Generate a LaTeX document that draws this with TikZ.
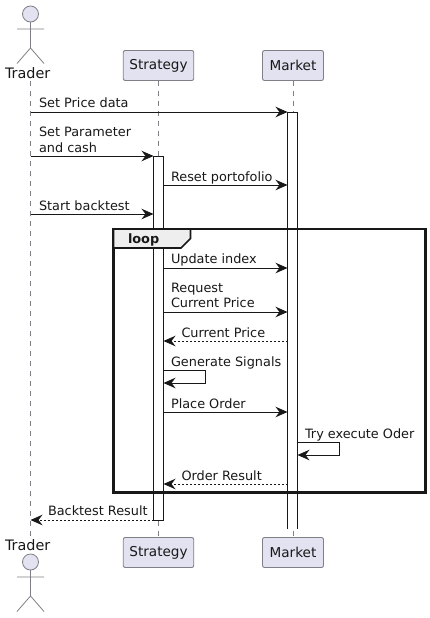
\documentclass[tikz,border=0pt]{standalone}
\usepackage{fontspec}
\setmainfont{DejaVu Sans}
\usetikzlibrary{arrows.meta}
\definecolor{partfill}{HTML}{E2E2F0}
\definecolor{partline}{HTML}{7F7F87}
\definecolor{ink}{HTML}{181818}
\definecolor{tabfill}{HTML}{EEEEEE}
\tikzset{
  lbl/.style={anchor=base west,inner sep=0pt,outer sep=0pt,text=ink,font=\fontsize{12.85pt}{14pt}\selectfont},
  partbox/.style={draw=partline,fill=partfill,line width=.9pt,rounded corners=2pt,minimum height=30pt,inner sep=0pt,outer sep=0pt,text=ink,font=\fontsize{13.6pt}{16pt}\selectfont},
  actorname/.style={inner sep=0pt,outer sep=0pt,anchor=base,text=ink,font=\fontsize{14.4pt}{16pt}\selectfont},
  actorshape/.style={draw=partline,line width=.8pt},
  lifeline/.style={draw=partline,line width=.7pt,dash pattern=on 5pt off 5pt},
  actbox/.style={draw=ink,fill=white,line width=.8pt,minimum width=10pt,inner sep=0pt,outer sep=0pt},
  msg/.style={draw=ink,line width=.8pt,-{Stealth[length=12pt,width=10.5pt,inset=4pt,fill=ink]}},
  ret/.style={msg,dash pattern=on 2pt off 2pt},
  framebox/.style={draw=ink,line width=2.3pt},
}
\begin{document}
\begin{tikzpicture}[x=1pt,y=-1pt]
\useasboundingbox (0,0) rectangle (430,618);
% participants
\node[partbox,minimum width=70.5pt] (stratT) at (158.5,65.5) {Strategy};
\node[partbox,minimum width=61pt] (markT) at (293,65.5) {Market};
\node[partbox,minimum width=70.5pt] (stratB) at (158.5,552.5) {Strategy};
\node[partbox,minimum width=61pt] (markB) at (293,552.5) {Market};
\node[actorname] (traderT) at (27.7,78) {Trader};
\node[actorname] (traderB) at (27.7,550) {Trader};
\coordinate (traderTop) at (30.5,81);
\coordinate (traderBot) at (30.5,537);
% lifelines
\draw[lifeline] (traderTop) -- (traderBot);
\draw[lifeline] (stratT) -- (stratB);
\draw[lifeline] (markT) -- (markB);
% actors
\foreach \y/\n in {14/a,562/b}{
  \draw[actorshape,fill=partfill] (30.5,\y) circle (8);
  \draw[actorshape] (30.5,\y+8) -- (30.5,\y+34) (17,\y+15) -- (44,\y+15)
    (17,\y+49.5) -- (30.5,\y+34) -- (44,\y+49.5);
}
% activations
\node[actbox,anchor=north,minimum height=364pt] (stratAct) at (158.5,156) {};
\fill[white] (287.5,112) rectangle (297.5,529);
\draw[ink,line width=.8pt] (287.5,529) -- (287.5,112) -- (297.5,112) -- (297.5,529);
\coordinate (markL) at (287.5,300);
\coordinate (markR) at (297.5,300);
\coordinate (traderL) at (30.5,300);
% loop frame
\draw[framebox] (113.5,229) rectangle (425.5,492.5);
\draw[framebox,fill=tabfill,line width=1.6pt] (113.5,229) -- (190.5,229) -- (190.5,238.5) -- (181,248) -- (113.5,248) -- cycle;
\node[lbl,font=\fontsize{12.85pt}{14pt}\selectfont\bfseries] (looplbl) at (128,243) {loop};
% messages
\draw[msg] (traderL |- 0,112) -- (markL |- 0,112);
\node[lbl] (t1) at (39,107) {Set Price data};
\draw[msg] (traderL |- 0,156) -- (stratAct.west |- 0,156);
\node[lbl] (t2) at (39,136) {Set Parameter};
\node[lbl] (t2b) at (39,152) {and cash};
\draw[msg] (stratAct.east |- 0,185) -- (markL |- 0,185);
\node[lbl] (t3) at (171,181) {Reset portofolio};
\draw[msg] (traderL |- 0,214) -- (stratAct.west |- 0,214);
\node[lbl] (t4) at (39,210) {Start backtest};
\draw[msg] (stratAct.east |- 0,268) -- (markL |- 0,268);
\node[lbl] (t5) at (171,263) {Update index};
\draw[msg] (stratAct.east |- 0,312) -- (markL |- 0,312);
\node[lbl] (t6) at (171,292) {Request};
\node[lbl] (t6b) at (171,307) {Current Price};
\draw[ret] (markL |- 0,341) -- (stratAct.east |- 0,341);
\node[lbl] (t7) at (181.5,337) {Current Price};
\draw[msg] (stratAct.east |- 0,370) -- (205.5,370) -- (205.5,383) -- (stratAct.east |- 0,383);
\node[lbl] (t8) at (171,366) {Generate Signals};
\draw[msg] (stratAct.east |- 0,412) -- (markL |- 0,412);
\node[lbl] (t9) at (171,408) {Place Order};
\draw[msg] (markR |- 0,442) -- (339.5,442) -- (339.5,455) -- (markR |- 0,455);
\node[lbl] (t10) at (305,438) {Try execute Oder};
\draw[ret] (markL |- 0,484) -- (stratAct.east |- 0,484);
\node[lbl] (t11) at (181.5,480) {Order Result};
\draw[ret] (stratAct.west |- 0,520) -- (traderL |- 0,520);
\node[lbl] (t12) at (48,515) {Backtest Result};
\end{tikzpicture}
\end{document}
